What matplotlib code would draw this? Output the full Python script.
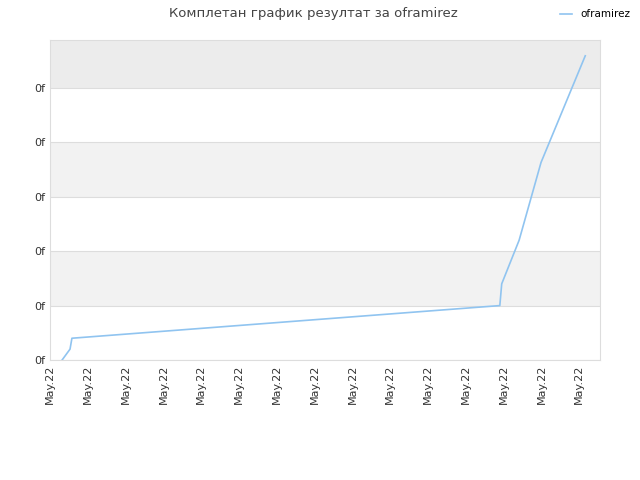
import matplotlib
matplotlib.use("Agg")
import matplotlib.pyplot as plt

x_vals = [0.32, 0.53, 0.58, 11.9, 11.95, 12.41, 12.99, 14.16]
y_vals = [0.0, 0.2, 0.4, 1.0, 1.4, 2.2, 3.63, 5.59]
x_ticks = list(range(15))
x_labels = ["May.22"] * 15
y_ticks = [0, 1, 2, 3, 4, 5]
y_labels = ["0f"] * 6

fig = plt.figure(figsize=(6.4, 4.8), dpi=100)
ax = fig.add_axes([50/640, 1-360/480, 550/640, 320/480])
ymax = 5.88
bands = [(0, 1, "white"), (1, 2, "#f2f2f2"), (2, 3, "white"), (3, 4, "#f2f2f2"), (4, 5, "white"), (5, ymax, "#ececec")]
for a, b, c in bands:
    ax.axhspan(a, b, color=c, zorder=0, lw=0)
ax.plot(x_vals, y_vals, color="#90c4f0", lw=1.2, label="oframirez", zorder=3)
ax.set_xlim(0, 14.55)
ax.set_ylim(0, ymax)
ax.set_xticks(x_ticks)
ax.set_xticklabels(x_labels, rotation=90, fontsize=8, color="#333333")
ax.set_yticks(y_ticks)
ax.set_yticklabels(y_labels, fontsize=8, color="#333333")
ax.grid(axis="y", color="#dddddd", lw=0.8)
ax.tick_params(length=0)
for s in ax.spines.values():
    s.set_color("#dddddd")
fig.suptitle("Комплетан график резултат за oframirez", x=0.49, y=0.985, fontsize=9.5, color="#444444")
fig.legend(loc="upper right", bbox_to_anchor=(1.0, 1.0), frameon=False, fontsize=7.5, handlelength=1.2)
fig.savefig("out.png", dpi=100)
